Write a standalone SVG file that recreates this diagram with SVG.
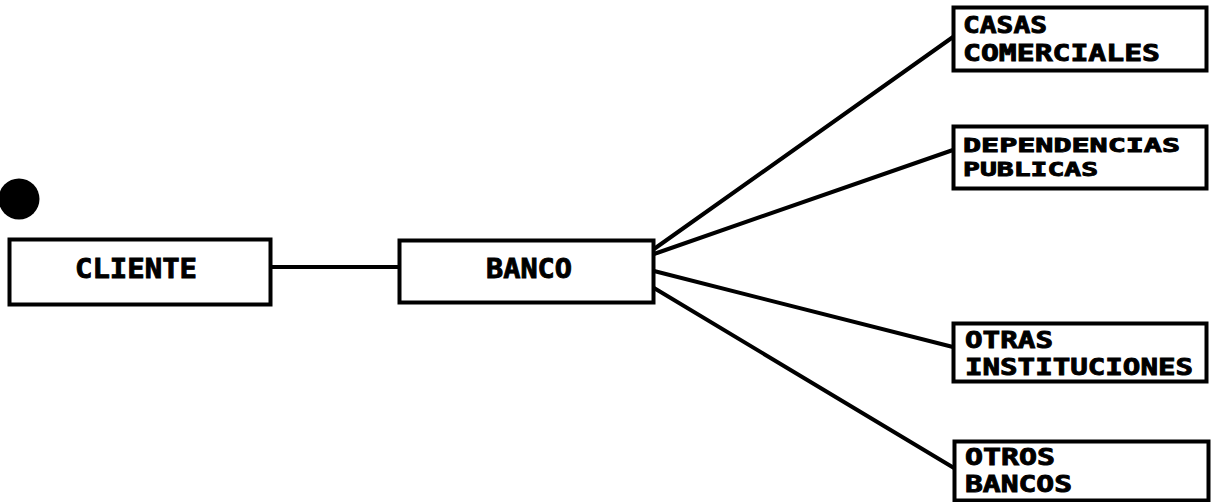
<svg xmlns="http://www.w3.org/2000/svg" width="1217" height="502" viewBox="0 0 1217 502">
  <style>
    .box { fill: #ffffff; stroke: #000000; stroke-width: 4; }
    .link { stroke: #000000; stroke-width: 4; fill: none; stroke-linecap: round; }
    .lbl { font-family: "DejaVu Sans Mono", "Liberation Mono", monospace; font-weight: bold; fill: #000000; stroke: #000000; stroke-width: 0.9; }
    .big { font-size: 27px; }
    .small { font-size: 23px; }
    .tight { font-size: 20px; }
  </style>
  <rect width="1217" height="502" fill="#ffffff"/>

  <!-- punch-hole mark -->
  <circle cx="19" cy="199" r="20.5" fill="#000000"/>

  <g id="connectors">
    <line class="link" x1="272" y1="267" x2="399" y2="267"/>
    <line class="link" x1="654" y1="249" x2="953" y2="37"/>
    <line class="link" x1="654" y1="254" x2="953" y2="150"/>
    <line class="link" x1="654" y1="271" x2="953" y2="347"/>
    <line class="link" x1="654" y1="288" x2="954" y2="468"/>
  </g>

  <g id="cliente">
    <rect class="box" x="9.5" y="239.5" width="261" height="65"/>
    <text class="lbl big" x="75" y="278" textLength="122" lengthAdjust="spacingAndGlyphs">CLIENTE</text>
  </g>

  <g id="banco">
    <rect class="box" x="399.5" y="240.5" width="254" height="62"/>
    <text class="lbl big" x="486" y="278" textLength="86" lengthAdjust="spacingAndGlyphs">BANCO</text>
  </g>

  <g id="casas-comerciales">
    <rect class="box" x="953.5" y="7.5" width="253" height="63"/>
    <text class="lbl small" x="963" y="33" textLength="84" lengthAdjust="spacingAndGlyphs">CASAS</text>
    <text class="lbl small" x="963" y="61" textLength="197" lengthAdjust="spacingAndGlyphs">COMERCIALES</text>
  </g>

  <g id="dependencias-publicas">
    <rect class="box" x="953.5" y="126.5" width="253" height="62"/>
    <text class="lbl tight" x="963" y="152" textLength="217" lengthAdjust="spacingAndGlyphs">DEPENDENCIAS</text>
    <text class="lbl tight" x="963" y="176" textLength="135" lengthAdjust="spacingAndGlyphs">PUBLICAS</text>
  </g>

  <g id="otras-instituciones">
    <rect class="box" x="953.5" y="323.5" width="253" height="58"/>
    <text class="lbl small" x="965" y="348" textLength="88" lengthAdjust="spacingAndGlyphs">OTRAS</text>
    <text class="lbl small" x="965" y="375" textLength="228" lengthAdjust="spacingAndGlyphs">INSTITUCIONES</text>
  </g>

  <g id="otros-bancos">
    <rect class="box" x="954.5" y="441.5" width="254" height="59"/>
    <text class="lbl small" x="965" y="465" textLength="90" lengthAdjust="spacingAndGlyphs">OTROS</text>
    <text class="lbl small" x="965" y="492" textLength="107" lengthAdjust="spacingAndGlyphs">BANCOS</text>
  </g>
</svg>
